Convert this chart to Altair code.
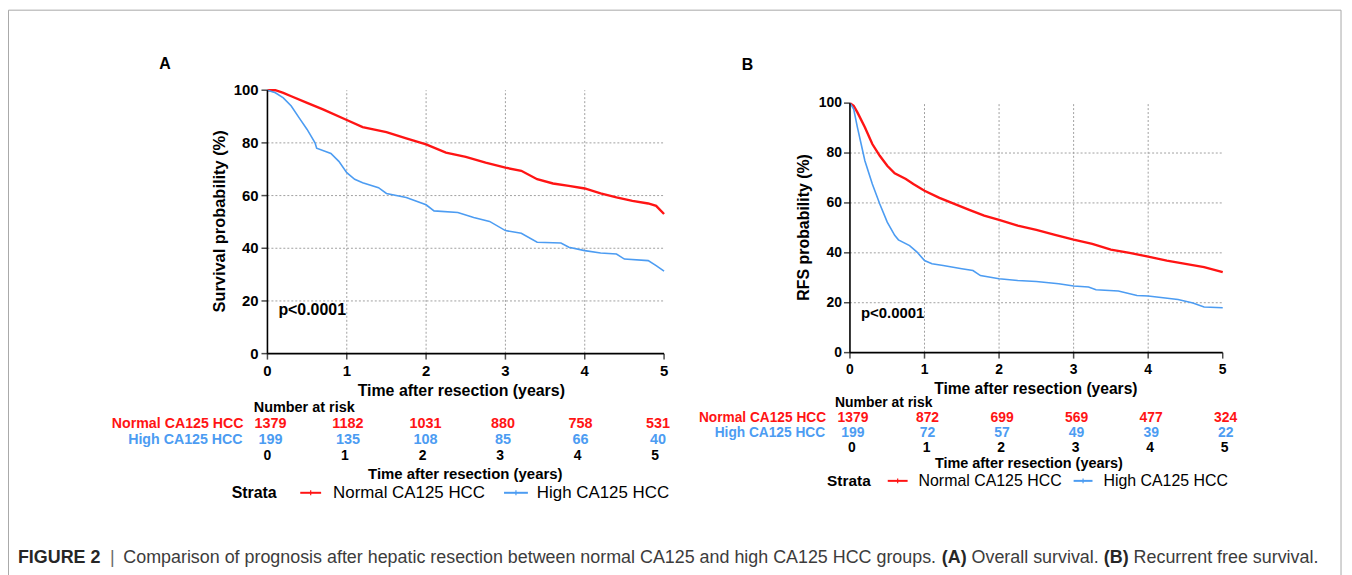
import altair as alt
import pandas as pd

FONT = "Liberation Sans"
RED = "#ff1414"
BLUE = "#4c9cf2"
GRID_COLOR = "#a0a0a0"
CAP_DARK = "#262626"
CAP_TEXT = "#3c3c3c"

# ---------------- data ----------------
YEARS = [0, 1, 2, 3, 4, 5]
PCT_TICKS = [0, 20, 40, 60, 80, 100]
GRID_X = [1, 2, 3, 4]
GRID_Y = [20, 40, 60, 80]

# Panel A - overall survival
A_NORMAL_T = [0, 0.1, 0.2, 0.3, 0.5, 0.7, 1.0, 1.2, 1.5, 1.75, 2.0, 2.25, 2.5, 2.75,
              3.0, 3.2, 3.4, 3.6, 3.8, 4.0, 4.2, 4.4, 4.6, 4.8, 4.9, 5.0]
A_NORMAL_S = [100, 100, 99, 97.7, 95.2, 92.7, 88.7, 86, 84.1, 81.7, 79.4, 76.3, 74.7, 72.5,
              70.6, 69.4, 66.2, 64.6, 63.7, 62.7, 60.8, 59.3, 58, 57, 56.1, 53]
A_HIGH_T = [0, 0.1, 0.2, 0.3, 0.4, 0.5, 0.6, 0.62, 0.8, 0.9, 1.0, 1.1, 1.2, 1.4, 1.5, 1.75,
            2.0, 2.1, 2.4, 2.6, 2.8, 3.0, 3.2, 3.4, 3.7, 3.8, 4.0, 4.2, 4.4, 4.5, 4.8, 4.9, 5.0]
A_HIGH_S = [100, 99, 97.1, 94, 89.5, 85.1, 80, 78, 76, 73, 68.7, 66.2, 64.9, 63, 60.8, 59.3,
            56.5, 54.2, 53.6, 51.7, 50.2, 46.7, 45.7, 42.3, 42, 40.4, 39.1, 38.2, 37.8, 35.9, 35.3, 33.4, 31.3]

# Panel B - recurrence free survival
B_NORMAL_T = [0, 0.05, 0.1, 0.2, 0.3, 0.4, 0.5, 0.6, 0.75, 0.85, 1.0, 1.2, 1.4, 1.6, 1.8, 2.0,
              2.25, 2.5, 2.75, 3.0, 3.25, 3.5, 3.75, 4.0, 4.25, 4.5, 4.75, 5.0]
B_NORMAL_S = [100, 98.9, 96.3, 90.3, 83.6, 78.9, 74.9, 71.9, 69.6, 67.6, 64.9, 62, 59.6, 57.2, 54.9, 53.2,
              50.9, 49.2, 47.2, 45.3, 43.6, 41.3, 40, 38.5, 36.9, 35.6, 34.3, 32.3]
B_HIGH_T = [0, 0.05, 0.1, 0.15, 0.2, 0.3, 0.4, 0.5, 0.6, 0.65, 0.8, 0.9, 1.0, 1.1, 1.25, 1.5, 1.65,
            1.75, 2.0, 2.25, 2.5, 2.8, 3.0, 3.2, 3.3, 3.6, 3.85, 4.0, 4.2, 4.4, 4.6, 4.75, 5.0]
B_HIGH_S = [100, 97.6, 90.3, 83.6, 76.9, 67.6, 59.6, 52.3, 47, 45.2, 42.9, 40.3, 36.9, 35.6, 34.9, 33.6, 32.9,
            30.9, 29.6, 28.9, 28.5, 27.6, 26.7, 26.3, 25.2, 24.7, 22.9, 22.7, 22, 21.3, 19.9, 18.3, 18]

# Number at risk
RISK_A_NORMAL = [1379, 1182, 1031, 880, 758, 531]
RISK_A_HIGH = [199, 135, 108, 85, 66, 40]
RISK_B_NORMAL = [1379, 872, 699, 569, 477, 324]
RISK_B_HIGH = [199, 72, 57, 49, 39, 22]

GROUP_NORMAL = "Normal CA125 HCC"
GROUP_HIGH = "High CA125 HCC"

CAPTION_HEAD = "FIGURE 2"
CAPTION_BODY = "Comparison of prognosis after hepatic resection between normal CA125 and high CA125 HCC groups."
CAPTION_A = "(A)"
CAPTION_A_TEXT = "Overall survival."
CAPTION_B = "(B)"
CAPTION_B_TEXT = "Recurrent free survival."

# ---------------- helpers ----------------
def one(text):
    return pd.DataFrame({"s": [text]})


def label(text, x, y, size, weight="bold", color="black", align="center", angle=0, baseline="middle"):
    return alt.Chart(one(text)).mark_text(
        font=FONT, fontSize=size, fontWeight=weight, color=color,
        align=align, angle=angle, baseline=baseline
    ).encode(x=alt.value(x), y=alt.value(y), text="s:N")


def panel(xr, yr, curves, tick_size, tick_dy, ylab_dx):
    xs = alt.Scale(domain=[0, 5], range=xr, nice=False, zero=False)
    ys = alt.Scale(domain=[0, 100], range=yr, nice=False, zero=False)

    def X(f):
        return alt.X(f, type="quantitative", scale=xs, axis=None)

    def Y(f):
        return alt.Y(f, type="quantitative", scale=ys, axis=None)

    parts = []
    parts.append(alt.Chart(pd.DataFrame({"t": GRID_X, "lo": 0, "hi": 100})).mark_rule(
        color=GRID_COLOR, strokeDash=[2, 2], strokeWidth=1).encode(x=X("t"), y=Y("lo"), y2="hi"))
    parts.append(alt.Chart(pd.DataFrame({"v": GRID_Y, "a": 0, "b": 5})).mark_rule(
        color=GRID_COLOR, strokeDash=[2, 2], strokeWidth=1).encode(y=Y("v"), x=X("a"), x2="b"))
    for t, s, color, w in curves:
        parts.append(alt.Chart(pd.DataFrame({"t": t, "s": s})).mark_line(
            color=color, strokeWidth=w).encode(x=X("t"), y=Y("s")))
    # axis lines
    parts.append(alt.Chart(pd.DataFrame({"a": [0], "b": [5], "z": [0]})).mark_rule(
        color="black", strokeWidth=1.6).encode(x=X("a"), x2="b", y=Y("z")))
    parts.append(alt.Chart(pd.DataFrame({"a": [0], "b": [100], "z": [0]})).mark_rule(
        color="black", strokeWidth=1.6).encode(y=Y("a"), y2="b", x=X("z")))
    # ticks
    parts.append(alt.Chart(pd.DataFrame({"t": YEARS, "z": 0})).mark_tick(
        orient="vertical", size=6, thickness=1.5, yOffset=3, color="black").encode(x=X("t"), y=Y("z")))
    parts.append(alt.Chart(pd.DataFrame({"v": PCT_TICKS, "z": 0})).mark_tick(
        orient="horizontal", size=6, thickness=1.5, xOffset=-3, color="black").encode(x=X("z"), y=Y("v")))
    # tick labels
    parts.append(alt.Chart(pd.DataFrame({"t": YEARS, "z": 0, "lab": [str(v) for v in YEARS]})).mark_text(
        font=FONT, fontSize=tick_size, fontWeight="bold", dy=tick_dy, color="black").encode(
        x=X("t"), y=Y("z"), text="lab:N"))
    parts.append(alt.Chart(pd.DataFrame({"v": PCT_TICKS, "z": 0, "lab": [str(v) for v in PCT_TICKS]})).mark_text(
        font=FONT, fontSize=tick_size, fontWeight="bold", dx=ylab_dx, align="right", baseline="middle",
        color="black").encode(x=X("z"), y=Y("v"), text="lab:N"))
    return alt.layer(*parts)


def table_row(values, xr, y, color, size, dx=0):
    ts = alt.Scale(domain=[0, 5], range=xr, nice=False, zero=False)
    return alt.Chart(pd.DataFrame({"t": YEARS, "n": [str(v) for v in values]})).mark_text(
        font=FONT, fontSize=size, fontWeight="bold", color=color, dx=dx, baseline="middle").encode(
        x=alt.X("t:Q", scale=ts, axis=None), y=alt.value(y), text="n:N")


def legend_line(x1, x2, y, color):
    mid = (x1 + x2) / 2
    a = alt.Chart(one("l")).mark_rule(color=color, strokeWidth=2).encode(
        x=alt.value(x1), x2=alt.value(x2), y=alt.value(y))
    b = alt.Chart(one("t")).mark_rule(color=color, strokeWidth=1.2).encode(
        x=alt.value(mid), y=alt.value(y - 2.5), y2=alt.value(y + 2.5))
    return [a, b]


# Arial / Liberation Sans advance widths (1/1000 em) for caption layout
REG = {' ': 278, '.': 278, '|': 260, '1': 556, '2': 556, '5': 556, 'A': 667, 'C': 722, 'H': 722,
       'O': 778, 'R': 722, 'a': 556, 'b': 556, 'c': 500, 'd': 556, 'e': 556, 'f': 278, 'g': 556,
       'h': 556, 'i': 222, 'l': 222, 'm': 833, 'n': 556, 'o': 556, 'p': 556, 'r': 333, 's': 500,
       't': 278, 'u': 556, 'v': 500, 'w': 722, 'y': 500}
BOLD = {' ': 278, '(': 333, ')': 333, '2': 556, 'A': 722, 'B': 722, 'E': 667, 'F': 611, 'G': 778,
        'I': 278, 'R': 722, 'U': 722}


def tw(s, table, size):
    return sum(table.get(c, 556) for c in s) * size / 1000.0


layers = []

# outer frame
layers.append(alt.Chart(one("f")).mark_rect(fillOpacity=0, stroke="#a8a8a8", strokeWidth=1).encode(
    x=alt.value(0.5), x2=alt.value(1341), y=alt.value(0.5), y2=alt.value(700)))

# Panel A
layers.append(panel([261, 660], [346, 81],
                    [(A_NORMAL_T, A_NORMAL_S, RED, 2.4), (A_HIGH_T, A_HIGH_S, BLUE, 1.6)],
                    15, 18, -9))
layers.append(label("A", 158, 55, 16))
layers.append(label("Survival probability (%)", 213, 213, 16.5, angle=270))
layers.append(label("Time after resection (years)", 456, 384, 16))
layers.append(label("p<0.0001", 272, 302, 16, align="left"))

# Panel B
layers.append(panel([847, 1222], [345, 94],
                    [(B_NORMAL_T, B_NORMAL_S, RED, 2.4), (B_HIGH_T, B_HIGH_S, BLUE, 1.6)],
                    14, 17, -8))
layers.append(label("B", 744, 56, 16))
layers.append(label("RFS probability (%)", 801, 219, 16, angle=270))
layers.append(label("Time after resection (years)", 1034, 382, 15.7))
layers.append(label("p<0.0001", 858, 305, 15, align="left"))

# Risk table A
layers.append(label("Number at risk", 298, 401, 14.5))
layers.append(label(GROUP_NORMAL, 237, 417, 14.3, color=RED, align="right"))
layers.append(label(GROUP_HIGH, 236, 433, 14.3, color=BLUE, align="right"))
layers.append(table_row(RISK_A_NORMAL, [264, 654], 417, RED, 14.5))
layers.append(table_row(RISK_A_HIGH, [264, 654], 433, BLUE, 14.5))
layers.append(table_row(YEARS, [264, 654], 449, "black", 14, dx=-3))
layers.append(label("Time after resection (years)", 460, 467, 15))
layers.append(label("Strata", 225, 486, 16, align="left"))
layers += legend_line(294, 315, 486, RED)
layers.append(label(GROUP_NORMAL, 327, 486, 17, weight="normal", align="left"))
layers += legend_line(499, 523, 486, BLUE)
layers.append(label(GROUP_HIGH, 532, 486, 17, weight="normal", align="left"))

# Risk table B
layers.append(label("Number at risk", 881, 396, 14))
layers.append(label(GROUP_NORMAL, 823, 411, 13.8, color=RED, align="right"))
layers.append(label(GROUP_HIGH, 822, 426, 13.8, color=BLUE, align="right"))
layers.append(table_row(RISK_B_NORMAL, [850, 1225], 411, RED, 14))
layers.append(table_row(RISK_B_HIGH, [850, 1225], 426, BLUE, 14))
layers.append(table_row(YEARS, [850, 1225], 441, "black", 14, dx=-1))
layers.append(label("Time after resection (years)", 1027, 457, 14.5))
layers.append(label("Strata", 824, 474, 15.5, align="left"))
layers += legend_line(885, 905, 474, RED)
layers.append(label(GROUP_NORMAL, 916, 474, 16, weight="normal", align="left"))
layers += legend_line(1072, 1091, 474, BLUE)
layers.append(label(GROUP_HIGH, 1102, 474, 16, weight="normal", align="left"))

# Caption
CAP_SIZE = 18
CAP_Y = 557
x = 10
layers.append(label(CAPTION_HEAD, x, CAP_Y, CAP_SIZE, color=CAP_DARK, align="left", baseline="alphabetic"))
layers.append(label("|", 105, CAP_Y, CAP_SIZE, weight="normal", color="#6a6a6a", baseline="alphabetic"))
x = 116
segments = [
    (CAPTION_BODY, "normal", CAP_TEXT),
    (CAPTION_A, "bold", CAP_DARK),
    (CAPTION_A_TEXT, "normal", CAP_TEXT),
    (CAPTION_B, "bold", CAP_DARK),
    (CAPTION_B_TEXT, "normal", CAP_TEXT),
]
for text, weight, color in segments:
    layers.append(label(text, x, CAP_Y, CAP_SIZE, weight=weight, color=color, align="left", baseline="alphabetic"))
    table = BOLD if weight == "bold" else REG
    x += tw(text, table, CAP_SIZE) + tw(" ", REG, CAP_SIZE)

chart = alt.layer(*layers).resolve_scale(
    x="independent", y="independent"
).properties(
    width=1344, height=567, autosize=alt.AutoSizeParams(type="none"), padding=0,
    background="white"
).configure_view(stroke=None)

chart.save("out.html", embed_options={"renderer": "svg", "actions": False})
